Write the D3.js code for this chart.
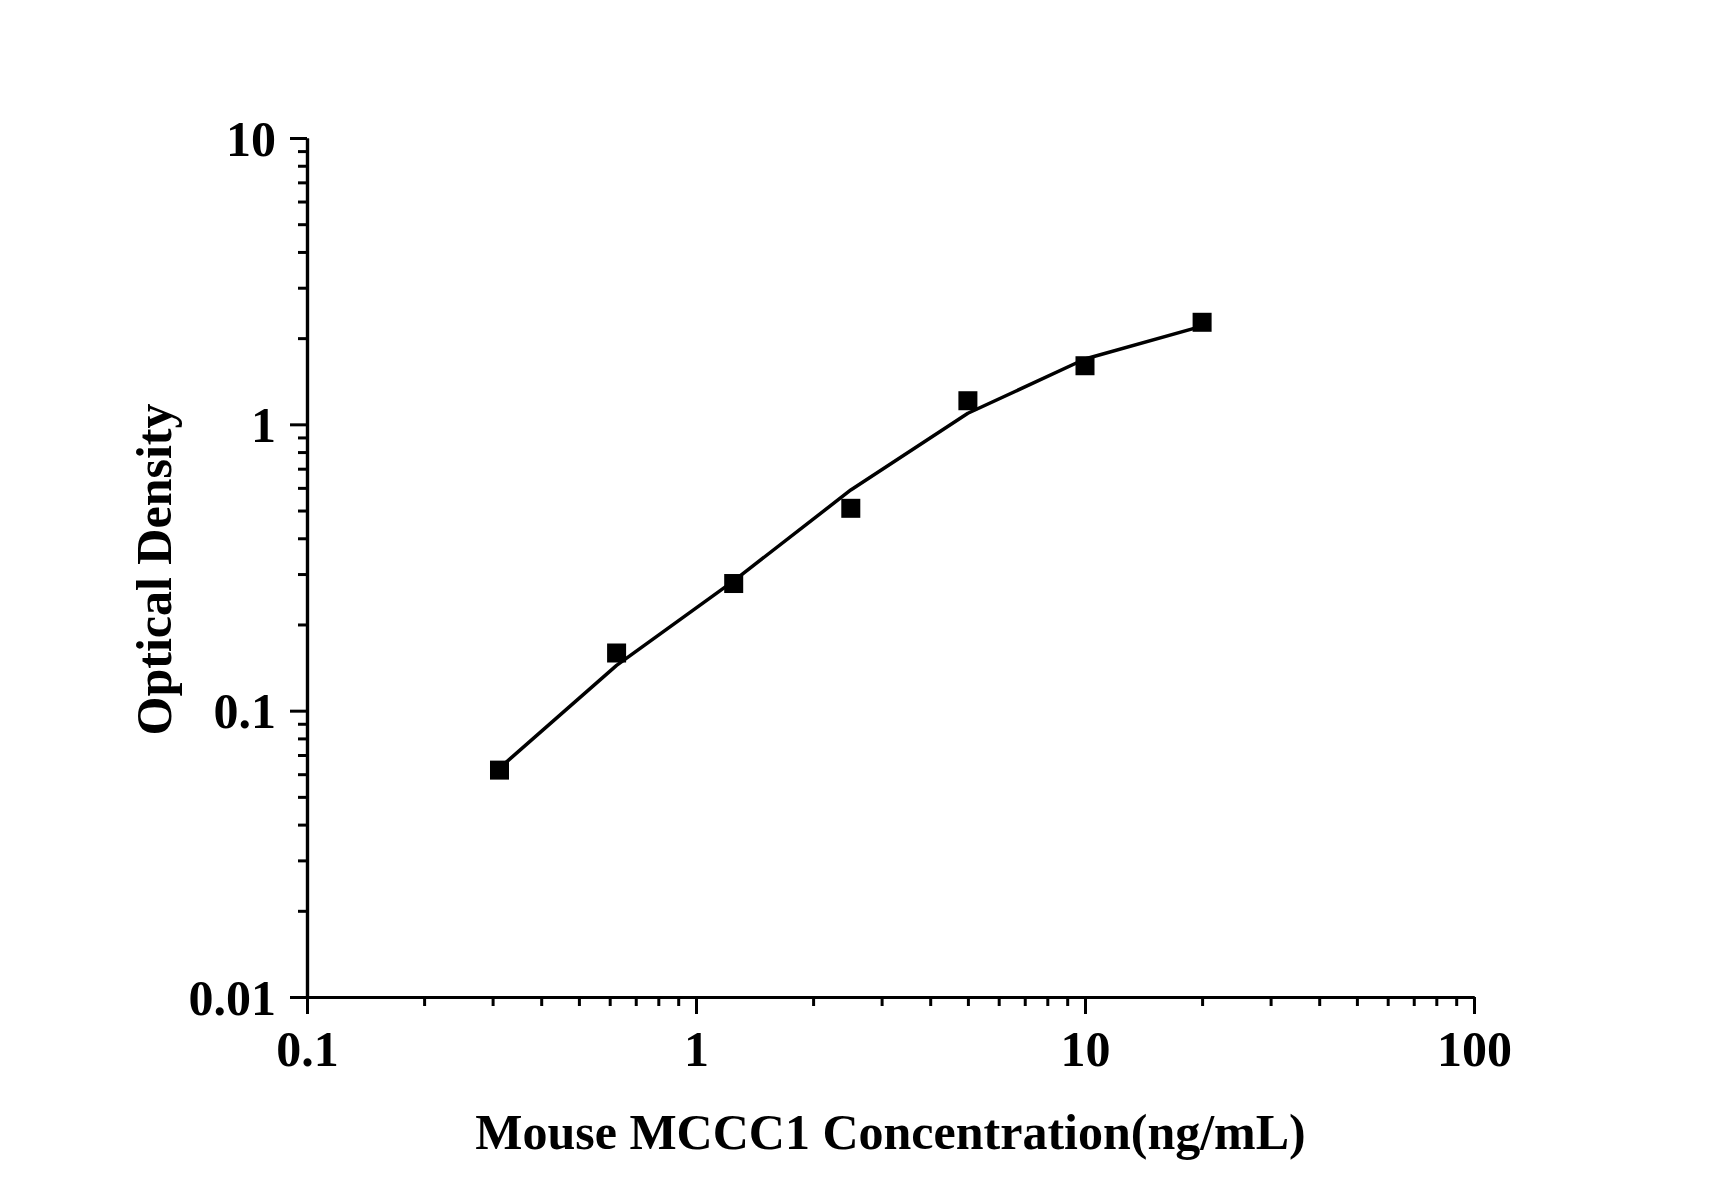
<!DOCTYPE html>
<html>
<head>
<meta charset="utf-8">
<script src="https://cdn.jsdelivr.net/npm/d3@7"></script>
<style>
  html, body { margin: 0; padding: 0; background: #fff; }
  text { font-family: "Liberation Serif", "Times New Roman", serif; font-weight: bold; }
</style>
</head>
<body>
<div id="chart"></div>
<script>
/*global d3*/
// standard curve
var concentration = [0.3125, 0.625, 1.25, 2.5, 5, 10, 20];
var odMeasured = [0.062, 0.159, 0.278, 0.509, 1.209, 1.602, 2.272];
var odFitted = [0.063, 0.144, 0.284, 0.590, 1.093, 1.691, 2.204];

var xTickValues = [0.1, 1, 10, 100];
var xTickLabels = ["0.1", "1", "10", "100"];
var yTickValues = [0.01, 0.1, 1, 10];
var yTickLabels = ["0.01", "0.1", "1", "10"];

var xTitle = "Mouse MCCC1 Concentration(ng/mL)";
var yTitle = "Optical Density";

// note: "top" is taken by window.top, so plot* names
var width = 1712,
    height = 1196,
    plotLeft = 307, plotRight = 1474,
    plotTop = 138, plotBottom = 997,
    fontSize = 50;

var svg = d3.select("#chart")
    .append("svg")
    .attr("width", width)
    .attr("height", height);

var x = d3.scaleLog().domain([0.1, 100]).range([plotLeft, plotRight]);
var y = d3.scaleLog().domain([0.01, 10]).range([plotBottom, plotTop]);

// minor ticks = every 1..9 multiple that is not a decade
var isMajor = function (v) {
    return Math.abs(Math.log10(v) - Math.round(Math.log10(v))) < 1e-9;
};
var xMinor = x.ticks().filter(function (v) { return !isMajor(v); });
var yMinor = y.ticks().filter(function (v) { return !isMajor(v); });

function styleAxis(g) {
    g.selectAll("path.domain").attr("stroke", "#000").attr("stroke-width", 3.2);
    g.selectAll(".tick line").attr("stroke", "#000").attr("stroke-width", 3);
}

// x axis
svg.append("g")
    .attr("transform", "translate(0," + plotBottom + ")")
    .call(d3.axisBottom(x).tickValues(xMinor).tickSize(9).tickSizeOuter(0).tickFormat(""))
    .call(styleAxis);

var gx = svg.append("g")
    .attr("transform", "translate(0," + plotBottom + ")")
    .call(d3.axisBottom(x).tickValues(xTickValues).tickSize(17).tickSizeOuter(0)
        .tickFormat(function (d, i) { return xTickLabels[i]; }))
    .call(styleAxis);

gx.selectAll(".tick text")
    .attr("y", 0)
    .attr("dy", 0)
    .attr("transform", "translate(0,69)")
    .style("font-size", fontSize + "px")
    .attr("fill", "#000");

// y axis
svg.append("g")
    .attr("transform", "translate(" + plotLeft + ",0)")
    .call(d3.axisLeft(y).tickValues(yMinor).tickSize(9).tickSizeOuter(0).tickFormat(""))
    .call(styleAxis);

var gy = svg.append("g")
    .attr("transform", "translate(" + plotLeft + ",0)")
    .call(d3.axisLeft(y).tickValues(yTickValues).tickSize(17).tickSizeOuter(0)
        .tickFormat(function (d, i) { return yTickLabels[i]; }))
    .call(styleAxis);

gy.selectAll(".tick text")
    .attr("x", -31)
    .attr("dy", 0)
    .attr("transform", "translate(0,17)")
    .style("font-size", fontSize + "px")
    .attr("fill", "#000");

// fitted curve
var line = d3.line()
    .x(function (d) { return x(d[0]); })
    .y(function (d) { return y(d[1]); });

svg.append("path")
    .datum(d3.zip(concentration, odFitted))
    .attr("d", line)
    .attr("fill", "none")
    .attr("stroke", "#000")
    .attr("stroke-width", 3.5)
    .attr("stroke-linejoin", "round");

// measured points
var s = 19;
svg.append("g")
    .selectAll("rect")
    .data(d3.zip(concentration, odMeasured))
    .join("rect")
    .attr("x", function (d) { return x(d[0]) - s / 2; })
    .attr("y", function (d) { return y(d[1]) - s / 2; })
    .attr("width", s)
    .attr("height", s)
    .attr("fill", "#000");

// titles
svg.append("text")
    .text(xTitle)
    .attr("x", (plotLeft + plotRight) / 2)
    .attr("y", 1149)
    .attr("text-anchor", "middle")
    .style("font-size", fontSize + "px")
    .attr("fill", "#000");

svg.append("text")
    .text(yTitle)
    .attr("transform", "translate(171," + ((plotTop + plotBottom) / 2 + 2) + ") rotate(-90)")
    .attr("text-anchor", "middle")
    .style("font-size", fontSize + "px")
    .attr("fill", "#000");
</script>
</body>
</html>
